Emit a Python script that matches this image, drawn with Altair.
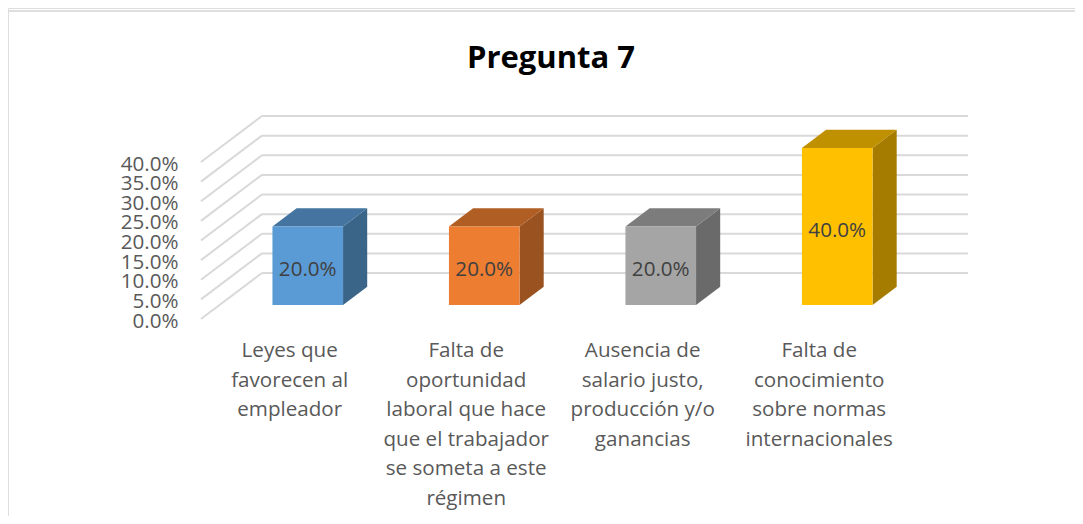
import json
import altair as alt
import pandas as pd

# ---- chart content ----
categories = [
    "Leyes que\nfavorecen al\nempleador",
    "Falta de\noportunidad\nlaboral que hace\nque el trabajador\nse someta a este\nrégimen",
    "Ausencia de\nsalario justo,\nproducción y/o\nganancias",
    "Falta de\nconocimiento\nsobre normas\ninternacionales",
]
values = [20.0, 20.0, 20.0, 40.0]
axis_ticks = [0, 5, 10, 15, 20, 25, 30, 35, 40]
front_colors = ["#5b9bd5", "#ed7d31", "#a5a5a5", "#ffc000"]
top_colors = ["#44749f", "#b15e24", "#7c7c7c", "#bf9000"]
side_colors = ["#3a6488", "#9a5220", "#6a6a6a", "#a67c00"]
title_text = "Pregunta 7"

# ---- oblique projection: slot index / percent plus a depth between 0 and 1 ----
SLOT_PX = 176.5
PCT_PX = 3.925
DEPTH_X = 61 / SLOT_PX
DEPTH_Y = 46 / PCT_PX
HALF_BAR = 0.2
BAR_FRONT = 0.304
BAR_BACK = 0.70
X_DOMAIN = [(8 - 289.2) / SLOT_PX, (1075 - 289.2) / SLOT_PX]
Y_DOMAIN = [(319 - 516) / PCT_PX, (319 - 8) / PCT_PX]


def px(i, d):
    return i + d * DEPTH_X


def py(v, d):
    return v + d * DEPTH_Y


xs = alt.Scale(domain=X_DOMAIN, nice=False, zero=False)
ys = alt.Scale(domain=Y_DOMAIN, nice=False, zero=False)
FONT = "Open Sans"
TEXT_SIZE = 20.6

X = lambda f, **k: alt.X(f, type="quantitative", scale=xs, title=None, **k)
Y = lambda f, **k: alt.Y(f, type="quantitative", scale=ys, title=None, **k)
FILL = alt.Color("fill:N", scale=None, legend=None)

# ---- walls ----
wall = pd.DataFrame(
    [{"x": px(-0.5, 0), "x2": px(-0.5, 1), "y": py(t, 0), "y2": py(t, 1)} for t in axis_ticks]
    + [{"x": px(-0.5, 1), "x2": px(3.5, 1), "y": py(t, 1), "y2": py(t, 1)} for t in axis_ticks]
)
wall_layer = alt.Chart(wall).mark_rule(color="#d9d9d9", strokeWidth=2).encode(
    x=X("x"), x2="x2", y=Y("y"), y2="y2"
)

# ---- bar faces ----
front = pd.DataFrame(
    {
        "x": [px(i - HALF_BAR, BAR_FRONT) for i in range(4)],
        "x2": [px(i + HALF_BAR, BAR_FRONT) for i in range(4)],
        "y": [py(0, BAR_FRONT) for _ in values],
        "y2": [py(v, BAR_FRONT) for v in values],
        "fill": front_colors,
    }
)
front_layer = alt.Chart(front).mark_rect().encode(
    x=X("x"), x2="x2", y=Y("y"), y2="y2", color=FILL
)

side_rows, top_rows = [], []
for i, v in enumerate(values):
    for d in (BAR_FRONT, BAR_BACK):
        side_rows.append(
            {"bar": i, "x": px(i + HALF_BAR, d), "y": py(0, d), "y2": py(v, d), "fill": side_colors[i]}
        )
        top_rows.append(
            {"bar": i, "y": py(v, d), "x": px(i - HALF_BAR, d), "x2": px(i + HALF_BAR, d), "fill": top_colors[i]}
        )
side_layer = alt.Chart(pd.DataFrame(side_rows)).mark_area(orient="vertical").encode(
    x=X("x"), y=Y("y"), y2="y2", color=FILL, detail="bar:N"
)
top_layer = alt.Chart(pd.DataFrame(top_rows)).mark_area(orient="horizontal").encode(
    y=Y("y"), x=X("x"), x2="x2", color=FILL, detail="bar:N"
)

# ---- value labels ----
labels = pd.DataFrame(
    {
        "x": [px(i, BAR_FRONT) for i in range(4)],
        "y": [py(v / 2, BAR_FRONT) for v in values],
        "t": [f"{v:.1f}%" for v in values],
    }
)
label_layer = alt.Chart(labels).mark_text(
    font=FONT, fontSize=TEXT_SIZE, color="#404040", baseline="middle", align="center", dy=4
).encode(x=X("x"), y=Y("y"), text="t:N")

# ---- real axes, pulled into the plot ----
cat_expr = "split(" + json.dumps(categories, ensure_ascii=False) + "[datum.value], '\\n')"
axis_data = pd.DataFrame({"x": [0, 1, 2, 3], "y": [0, 10, 20, 40]})
axis_layer = alt.Chart(axis_data).mark_point(opacity=0).encode(
    x=X(
        "x",
        axis=alt.Axis(
            values=[0, 1, 2, 3],
            labelExpr=cat_expr,
            domain=False,
            ticks=False,
            grid=False,
            orient="bottom",
            offset=-175.5,
            labelPadding=0,
            labelFont=FONT,
            labelFontSize=TEXT_SIZE,
            labelColor="#595959",
            labelLineHeight=29.5,
            labelAngle=0,
            labelFlush=False,
            labelOverlap=False,
            labelBound=False,
            labelBaseline="top",
            labelAlign="center",
        ),
    ),
    y=Y(
        "y",
        axis=alt.Axis(
            values=axis_ticks,
            labelExpr="format(datum.value, '.1f') + '%'",
            domain=False,
            ticks=False,
            grid=False,
            orient="left",
            offset=-170,
            labelPadding=0,
            labelOffset=2,
            labelFont=FONT,
            labelFontSize=TEXT_SIZE,
            labelColor="#595959",
            labelOverlap=False,
            labelBound=False,
            labelFlush=False,
        ),
    ),
)

# ---- outer frame (top and left edges only) ----
frame_left = alt.Chart(pd.DataFrame({"a": [0]})).mark_rule(color="#dedede", strokeWidth=2).encode(
    x=alt.value(0), y=alt.value(3), y2=alt.value(508)
)
frame_top = alt.Chart(pd.DataFrame({"a": [0]})).mark_rule(color="#dedede", strokeWidth=2).encode(
    x=alt.value(0), x2=alt.value(1067), y=alt.value(3)
)

chart = (
    alt.layer(
        frame_left, frame_top, axis_layer, wall_layer, side_layer, top_layer, front_layer, label_layer
    )
    .properties(
        width=1067,
        height=508,
        padding=0,
        autosize=alt.AutoSizeParams(type="none"),
        title=alt.TitleParams(
            title_text,
            orient="top",
            anchor="middle",
            frame="group",
            offset=-91,
            dx=9.5,
            baseline="alphabetic",
            font=FONT,
            fontSize=31,
            fontWeight="bold",
            color="#000000",
        ),
    )
    .configure_view(stroke="transparent", strokeWidth=0)
    .configure(background="white")
)

chart.save("out.html", embed_options={"renderer": "svg", "actions": False})
